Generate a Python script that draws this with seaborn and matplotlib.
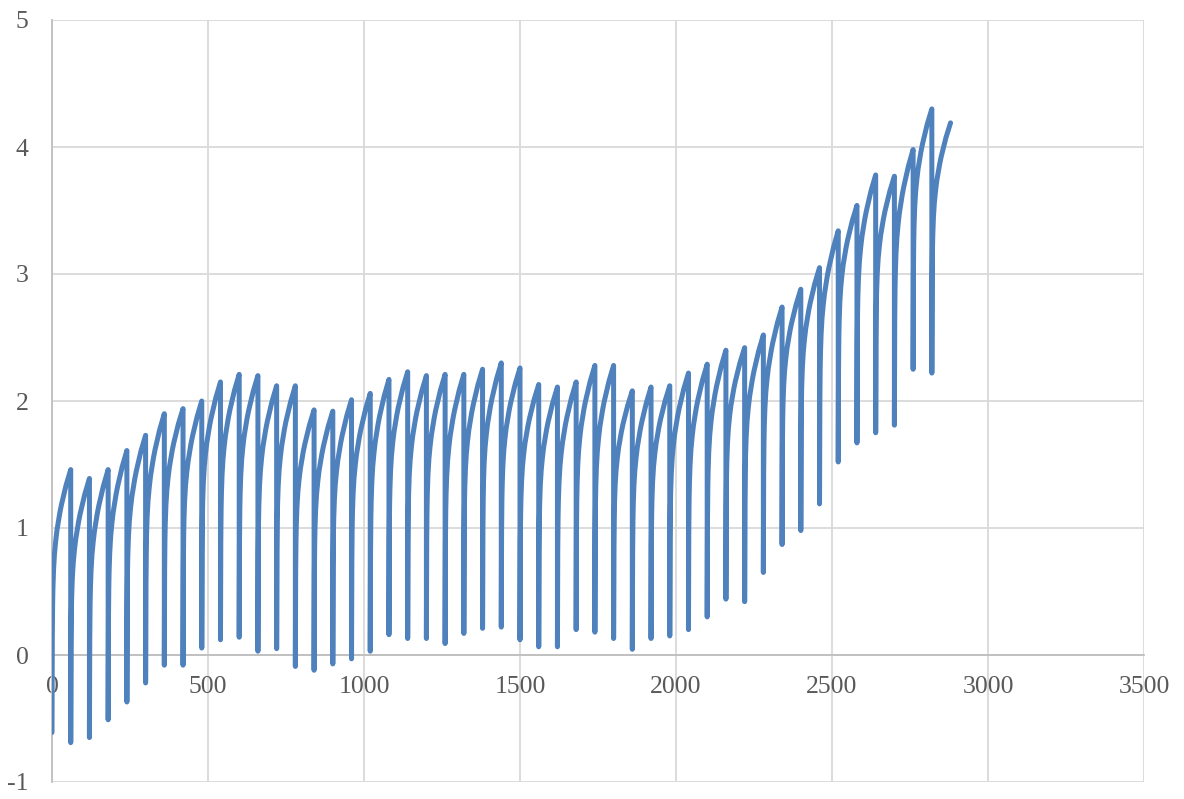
import numpy as np
import pandas as pd
import matplotlib
matplotlib.use("Agg")
import matplotlib.pyplot as plt
import seaborn as sns

# Each charging cycle lasts 60 units; the value jumps down at the start of a cycle
# and climbs back up until the next one.
cycle_length = 60
cycle_starts = [0, 60, 120, 180, 240, 300, 360, 420, 480, 540, 600, 660,
                720, 780, 840, 900, 960, 1020, 1080, 1140, 1200, 1260, 1320, 1380,
                1440, 1500, 1560, 1620, 1680, 1740, 1800, 1860, 1920, 1980, 2040, 2100,
                2160, 2220, 2280, 2340, 2400, 2460, 2520, 2580, 2640, 2700, 2760, 2820]

# value at the start of each cycle (the trough)
cycle_low = [-0.61, -0.69, -0.65, -0.51, -0.37, -0.22, -0.08, -0.08, 0.055, 0.12, 0.14, 0.03,
             0.05, -0.09, -0.12, -0.07, -0.03, 0.03, 0.16, 0.13, 0.13, 0.09, 0.17, 0.21,
             0.22, 0.12, 0.065, 0.065, 0.20, 0.18, 0.13, 0.045, 0.13, 0.15, 0.20, 0.30,
             0.44, 0.42, 0.65, 0.87, 0.98, 1.19, 1.52, 1.67, 1.75, 1.81, 2.25, 2.22]

# value at the end of each cycle (the crest)
cycle_high = [1.46, 1.39, 1.46, 1.61, 1.73, 1.90, 1.94, 2.00, 2.15, 2.21, 2.20, 2.12,
              2.12, 1.93, 1.92, 2.01, 2.06, 2.17, 2.23, 2.20, 2.21, 2.21, 2.25, 2.30,
              2.26, 2.13, 2.11, 2.15, 2.28, 2.28, 2.08, 2.11, 2.12, 2.22, 2.29, 2.40,
              2.42, 2.52, 2.74, 2.88, 3.05, 3.34, 3.54, 3.78, 3.77, 3.98, 4.30, 4.19]

# shape of the climb inside one cycle: offset from cycle start and share of the rise reached
rise_offset = [0, 0.5, 1, 2, 3, 5, 8, 12, 16, 20, 25, 30, 35, 40, 45, 50, 55, 60]
rise_share = [0.0, 0.24, 0.37, 0.49, 0.55, 0.62, 0.68, 0.73, 0.77, 0.80, 0.835, 0.865,
              0.89, 0.915, 0.94, 0.96, 0.98, 1.0]

x_ticks = [0, 500, 1000, 1500, 2000, 2500, 3000, 3500]
y_ticks = [-1, 0, 1, 2, 3, 4, 5]

rows = []
for start, low, high in zip(cycle_starts, cycle_low, cycle_high):
    for off, share in zip(rise_offset, rise_share):
        rows.append((start + off, low + (high - low) * share))
df = pd.DataFrame(rows, columns=["x", "y"])

sns.set_theme(style="white")
plt.rcParams["font.family"] = ["Liberation Serif", "DejaVu Serif"]

fig = plt.figure(figsize=(11.84, 7.99), dpi=100)
ax = fig.add_axes([52 / 1184, 1 - 782 / 799, (1144 - 52) / 1184, (782 - 20) / 799])

sns.lineplot(data=df, x="x", y="y", estimator=None, sort=False, ax=ax,
             color="#4F81BD", linewidth=3.6, solid_capstyle="round",
             solid_joinstyle="round", zorder=3)

ax.set_xlim(0, 3500)
ax.set_ylim(-1, 5)
ax.set_xticks(x_ticks)
ax.set_yticks(y_ticks)
ax.set_xticklabels([str(v) for v in x_ticks])
ax.set_yticklabels([str(v) for v in y_ticks])
ax.set_xlabel("")
ax.set_ylabel("")

ax.grid(True, color="#d9d9d9", linewidth=1.3, zorder=0)
ax.set_axisbelow(True)

for side in ["top", "right"]:
    ax.spines[side].set_visible(False)
ax.spines["bottom"].set_position(("data", 0))
ax.spines["bottom"].set_color("#bfbfbf")
ax.spines["bottom"].set_linewidth(1.3)
ax.spines["left"].set_color("#bfbfbf")
ax.spines["left"].set_linewidth(1.3)

ax.tick_params(axis="x", length=0, pad=15, labelsize=18.5, labelcolor="#595959")
ax.tick_params(axis="y", length=0, pad=17, labelsize=18.5, labelcolor="#595959")

fig.savefig("out.png", dpi=100, facecolor="white")
